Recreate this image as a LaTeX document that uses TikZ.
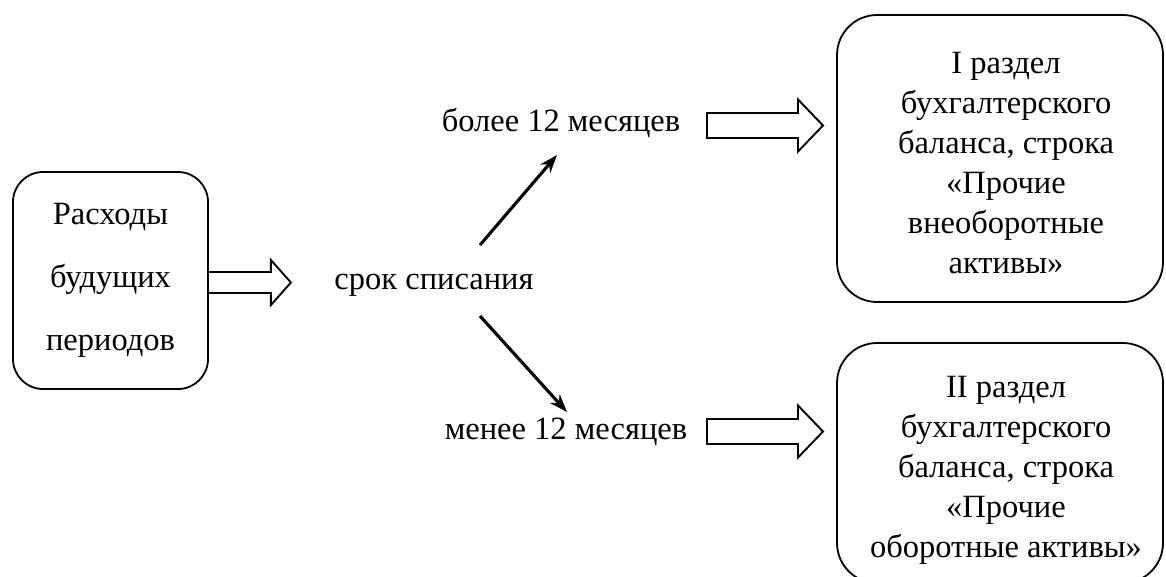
\documentclass[tikz,border=0pt]{standalone}
\usepackage{fontspec}
\setmainfont{Liberation Serif}
\usetikzlibrary{arrows.meta}
\begin{document}
\begin{tikzpicture}[x=1pt,y=-1pt,
  box/.style={draw, line width=1.8pt, align=center, inner sep=0pt},
  boxtext/.style={align=center, inner sep=0pt, font=\fontsize{32.5}{40}\selectfont},
  lbl/.style={inner sep=0pt, font=\fontsize{32.5}{40}\selectfont},
  thinarrow/.style={line width=3.1pt, -{Stealth[length=18pt,width=13pt]}},
  hollow/.style={draw, line width=1.9pt, line join=miter},
  harrow/.pic={\draw[hollow] (0,-12.5) -- (91,-12.5) -- (91,-26) -- (116,0) -- (91,26) -- (91,12.5) -- (0,12.5) -- cycle;},
  dblarrow/.pic={\draw[hollow] (0,-10.5) -- (62,-10.5) -- (62,-22.5) -- (82,0) -- (62,22.5) -- (62,10.5) -- (0,10.5);}]
\useasboundingbox (0,0) rectangle (1166,576);
\clip (0,0) rectangle (1166,576);
% boxes
\node[box, rounded corners=30pt, minimum width=195pt, minimum height=217pt,
  font=\fontsize{32.5}{63}\selectfont] (L) at (110.5,280.5) {Расходы\\будущих\\периодов};
\node[box, rounded corners=40pt, minimum width=326pt, minimum height=287pt] (R1) at (1000,158.5) {};
\node[boxtext] (R1t) at ([xshift=6pt,yshift=-5pt]R1.center)
  {I раздел\\бухгалтерского\\баланса, строка\\«Прочие\\внеоборотные\\активы»};
\node[box, rounded corners=40pt, minimum width=326pt, minimum height=240pt] (R2) at (1000,463) {};
\node[boxtext] (R2t) at ([xshift=6pt,yshift=-7pt]R2.center)
  {II раздел\\бухгалтерского\\баланса, строка\\«Прочие\\оборотные активы»};
% labels
\node[lbl] (S) at (434,285) {срок списания};
\node[lbl] (B) at (561,123) {более 12 месяцев};
\node[lbl] (M) at (566,432) {менее 12 месяцев};
% connectors
\pic at ([yshift=-2pt]L.east) {dblarrow};
\coordinate (u0) at (480,245);
\coordinate (u1) at (557,155);
\coordinate (d0) at (480,316);
\coordinate (d1) at (567,412);
\draw[thinarrow] (u0) -- (u1);
\draw[thinarrow] (d0) -- (d1);
\pic at (707,125.5) {harrow};
\pic at (707,431.5) {harrow};
\end{tikzpicture}
\end{document}
